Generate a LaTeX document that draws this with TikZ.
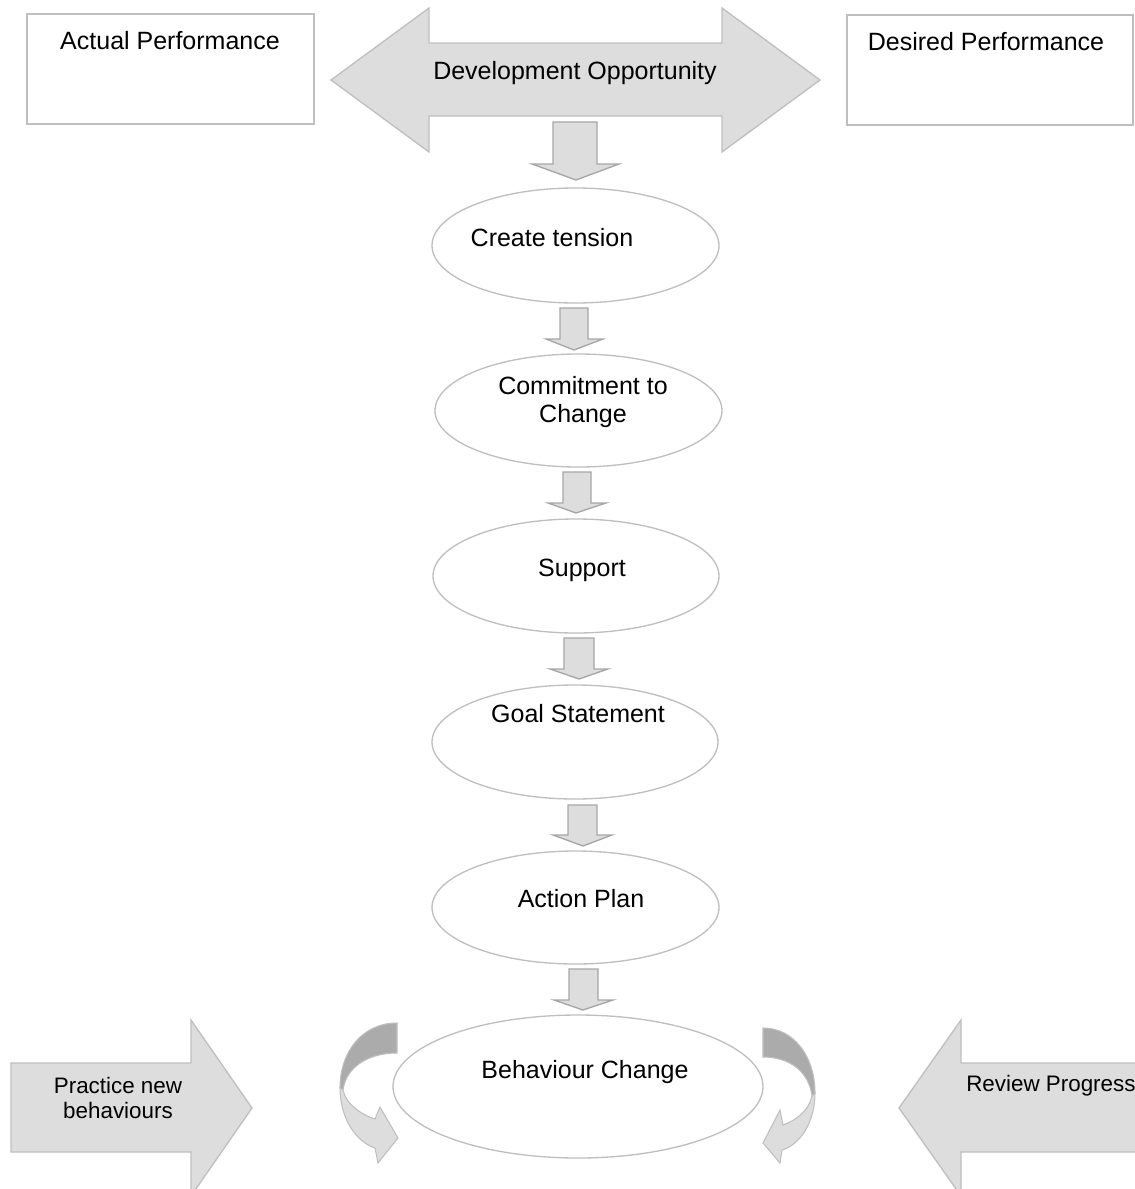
\documentclass[tikz,border=0pt]{standalone}
\usepackage{fontspec}
\setmainfont{Liberation Sans}
\usetikzlibrary{shapes.geometric}
\definecolor{edgegray}{HTML}{BFBFBF}
\definecolor{arrowedge}{HTML}{A6A6A6}
\definecolor{fillgray}{HTML}{DDDDDD}
\definecolor{darkband}{HTML}{ABABAB}
\tikzset{
  box/.style={draw=edgegray, fill=white, line width=1pt, inner sep=0pt, outer sep=0pt},
  oval/.style={ellipse, draw=edgegray, fill=white, line width=1pt, inner sep=0pt, outer sep=0pt},
  blockarrow/.style={draw=edgegray, fill=fillgray, line width=1pt, line join=miter},
  downarrow/.style={draw=arrowedge, fill=fillgray, line width=1pt, line join=miter},
  backband/.style={draw=edgegray, fill=darkband, line width=0.8pt},
  frontband/.style={draw=edgegray, fill=fillgray, line width=0.8pt},
  bigtext/.style={anchor=base, inner sep=0pt, font=\fontsize{18.75}{22}\selectfont},
  smalltext/.style={anchor=base, inner sep=0pt, font=\fontsize{16.8}{19}\selectfont},
}
\begin{document}
\begin{tikzpicture}[x=0.75pt, y=-0.75pt]
\useasboundingbox (0,0) rectangle (1135,1189);
\clip (0,0) rectangle (1135,1189);

% top boxes
\node[box, minimum width=215.25pt, minimum height=82.5pt] (actual) at (170.5,69) {};
\node[box, minimum width=214.5pt, minimum height=82.5pt] (desired) at (990,70) {};
\node[bigtext] (actualtxt) at (170,49) {Actual Performance};
\node[bigtext] (desiredtxt) at (986,50) {Desired Performance};

% double arrow
\draw[blockarrow] (331,80) -- (429,8) -- (429,43) -- (722,43) -- (722,8) -- (820,80)
  -- (722,152) -- (722,116) -- (429,116) -- (429,152) -- cycle;
\node[bigtext] (devtxt) at (575,79) {Development Opportunity};

% ellipses
\node[oval, minimum width=215.25pt, minimum height=86.25pt] (e1) at (575.5,245.5) {};
\node[oval, minimum width=215.25pt, minimum height=84.75pt] (e2) at (578.5,410.5) {};
\node[oval, minimum width=214.5pt, minimum height=85.5pt] (e3) at (576,576) {};
\node[oval, minimum width=214.5pt, minimum height=85.5pt] (e4) at (575,742) {};
\node[oval, minimum width=215.25pt, minimum height=84.75pt] (e5) at (575.5,907.5) {};
\node[oval, minimum width=277.5pt, minimum height=107.25pt] (e6) at (578,1086.5) {};

\node[bigtext] (t1) at (552,246) {Create tension};
\node[bigtext] (t2a) at (583,394) {Commitment to};
\node[bigtext] (t2b) at (583,422) {Change};
\node[bigtext] (t3) at (582,576) {Support};
\node[bigtext] (t4) at (578,722) {Goal Statement};
\node[bigtext] (t5) at (581,907) {Action Plan};
\node[bigtext] (t6) at (585,1078) {Behaviour Change};

% down block arrows
\draw[downarrow] (553,122) -- (597,122) -- (597,164) -- (619,164) -- (576,180) -- (532,164) -- (553,164) -- cycle;
\draw[downarrow] (560,308) -- (588,308) -- (588,339) -- (603,339) -- (574,350) -- (546,339) -- (560,339) -- cycle;
\draw[downarrow] (563,472) -- (591,472) -- (591,503) -- (606,503) -- (576,513) -- (548,503) -- (563,503) -- cycle;
\draw[downarrow] (564,638) -- (594,638) -- (594,669) -- (608,669) -- (579,679) -- (550,669) -- (564,669) -- cycle;
\draw[downarrow] (568,805) -- (597,805) -- (597,835) -- (612,835) -- (583,846) -- (553,835) -- (568,835) -- cycle;
\draw[downarrow] (569,969) -- (598,969) -- (598,1000) -- (613,1000) -- (583,1010) -- (554,1000) -- (569,1000) -- cycle;

% side block arrows
\draw[blockarrow] (11,1063) -- (191,1063) -- (191,1020) -- (252,1108) -- (191,1196)
  -- (191,1152) -- (11,1152) -- cycle;
\node[smalltext] (pa) at (118,1093) {Practice new};
\node[smalltext] (pb) at (118,1118) {behaviours};

\draw[blockarrow] (899,1108) -- (961,1020) -- (961,1063) -- (1150,1063) -- (1150,1152)
  -- (961,1152) -- (961,1196) -- cycle;
\node[smalltext, anchor=base west] (rp) at (966,1091) {Review Progress};

% left curved arrow
\draw[backband] (397,1023) .. controls (362,1023) and (340,1052) .. (340,1088)
  -- (343,1090) .. controls (346,1068) and (367,1053) .. (397,1053) -- cycle;
\draw[frontband] (340,1088) .. controls (340,1118) and (356,1142) .. (375,1148)
  -- (378,1163) -- (398,1138) -- (380,1107) -- (375,1119)
  .. controls (360,1114) and (346,1104) .. (343,1090) -- cycle;

% right curved arrow
\draw[backband] (763,1028) .. controls (795,1028) and (815,1058) .. (815,1093)
  -- (812,1096) .. controls (809,1072) and (790,1057) .. (763,1057) -- cycle;
\draw[frontband] (815,1093) .. controls (815,1122) and (800,1145) .. (782,1150)
  -- (780,1163) -- (763,1143) -- (780,1110) -- (783,1125)
  .. controls (797,1120) and (809,1110) .. (812,1096) -- cycle;
\end{tikzpicture}
\end{document}
